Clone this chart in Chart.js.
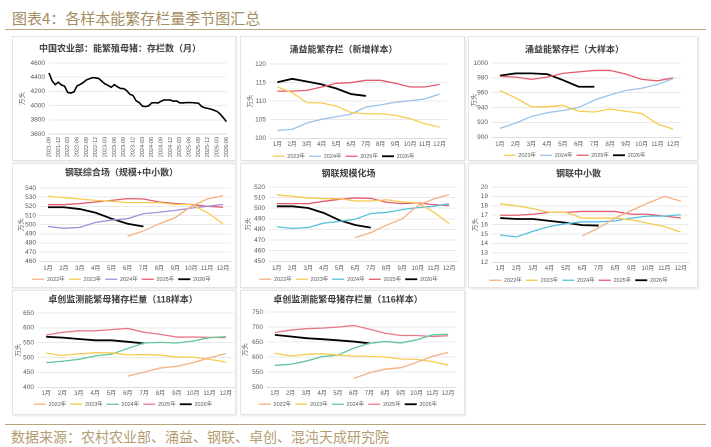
<!DOCTYPE html>
<html><head><meta charset="utf-8">
<script src="https://cdn.jsdelivr.net/npm/chart.js@4.4.1/dist/chart.umd.min.js"></script>
<style>
html,body{margin:0;padding:0;background:#fff;}
body{width:711px;height:447px;position:relative;overflow:hidden;font-family:"Noto Sans CJK SC",sans-serif;}
.hdr{position:absolute;left:12px;top:7px;font-size:15px;color:#a58d62;line-height:22px;white-space:nowrap;}
.rule{position:absolute;left:5px;width:701px;height:0;border-top:1.5px solid #b8a47c;}
.box{position:absolute;border:1px solid #e4e4e4;box-shadow:1px 1px 2px rgba(0,0,0,0.10);background:#fff;box-sizing:border-box;}
canvas.c{position:absolute;}
.ftr{position:absolute;left:11px;top:427px;font-size:14px;color:#b39d72;line-height:18px;white-space:nowrap;}
</style></head><body>
<div class="hdr">图表4：各样本能繁存栏量季节图汇总</div>
<div class="rule" style="top:29px"></div>
<div class="rule" style="top:424px"></div>
<div class="ftr">数据来源：农村农业部、涌益、钢联、卓创、混沌天成研究院</div>
<script>
// ---------- DATA ----------
const months = ['1月','2月','3月','4月','5月','6月','7月','8月','9月','10月','11月','12月'];
const yearNames = ['2022年','2023年','2024年','2025年','2026年'];

const moaLabels = ['2021-09','2021-10','2021-11','2021-12',
 '2022-01','2022-02','2022-03','2022-04','2022-05','2022-06','2022-07','2022-08','2022-09','2022-10','2022-11','2022-12',
 '2023-01','2023-02','2023-03','2023-04','2023-05','2023-06','2023-07','2023-08','2023-09','2023-10','2023-11','2023-12',
 '2024-01','2024-02','2024-03','2024-04','2024-05','2024-06','2024-07','2024-08','2024-09','2024-10','2024-11','2024-12',
 '2025-01','2025-02','2025-03','2025-04','2025-05','2025-06','2025-07','2025-08','2025-09','2025-10','2025-11','2025-12',
 '2026-01','2026-02','2026-03','2026-04','2026-05','2026-06'];
const moaSows = [4459,4348,4296,4329,
 4290,4274,4185,4177,4192,4277,4298,4324,4362,4379,4394,4390,
 4381,4343,4305,4284,4258,4296,4265,4241,4240,4210,4158,4142,
 4067,4042,3992,3986,3996,4038,4042,4036,4062,4080,4079,4078,
 4062,4066,4039,4038,4042,4043,4042,4038,4035,3990,3970,3961,
 3950,3935,3918,3880,3830,3775];

const yyNew2023 = [113.8,112.3,109.6,109.5,108.7,106.9,106.6,106.6,106.2,105.3,103.9,103.0];
const yyNew2024 = [102.1,102.4,104.1,105.1,105.8,106.5,108.4,109.0,109.7,110.1,110.6,111.9];
const yyNew2025 = [112.7,112.7,112.9,113.8,114.8,115.0,115.6,115.6,114.8,113.8,113.8,114.5];
const yyNew2026 = [115.1,116.0,115.3,114.5,113.4,111.9,111.4];

const yyBig2023 = [963,953,941,941,943,935,934,938,935,932,918,911];
const yyBig2024 = [912,919,928,933,936,940,950,957,963,966,971,979];
const yyBig2025 = [982,981,978,981,986,988,990,990,985,978,976,980];
const yyBig2026 = [983,986,986,985,977,968,968];

const glAll2022 = [null,null,null,null,null,487.3,493.1,501,507.6,520,528,531.6];
const glAll2023 = [531,529.5,528,526.5,525.5,524,524,524,522,522,513.5,501];
const glAll2024 = [498,496,497,502.5,505,506.5,512,513.5,515.6,518,520,522];
const glAll2025 = [521.8,521.8,523,524.7,526.5,528.4,528,524.7,523,522,520,519];
const glAll2026 = [519,519,517,513,506.5,501,498];

const glScale2022 = [null,null,null,null,null,472.4,477,484,490,502.5,508.7,512.8];
const glScale2023 = [512.5,511.2,509.7,509,509,506.8,506.8,508,506,505,496.5,485.5];
const glScale2024 = [482.4,481,481.8,486,487.6,489.6,495,496,498.7,500.6,501.8,504.3];
const glScale2025 = [504.3,504.3,504.3,506.5,508.4,509.7,509.3,505.6,504.3,505,503.4,502.5];
const glScale2026 = [501.8,501.8,500.2,495.5,488.6,484.2,481.7];

const glSmall2022 = [null,null,null,null,null,14.8,15.66,16.7,17.5,18.3,19.0,18.5];
const glSmall2023 = [18.2,18.0,17.7,17.3,17.3,16.7,16.7,16.7,16.5,16.15,15.8,15.2];
const glSmall2024 = [14.9,14.7,15.3,15.8,16.1,16.3,16.3,16.4,16.7,16.9,16.9,17.05];
const glSmall2025 = [17.0,17.0,17.1,17.3,17.3,17.4,17.4,17.4,17.1,17.1,16.9,16.7];
const glSmall2026 = [16.7,16.6,16.6,16.4,16.2,15.95,15.9];

const zc118_2022 = [null,null,null,null,null,437.5,451,465,470.5,483,499,513.6];
const zc118_2023 = [514.8,507,512.5,516,516,509,510,508,502,501,494,485];
const zc118_2024 = [483,487.5,494,505.7,511,530.7,549,551,549,555.7,567,570.5];
const zc118_2025 = [576,585,590,590,594,598,585,578,569,569,568,567];
const zc118_2026 = [570,567,562.5,558,558,553,547.7];

const zc116_2022 = [null,null,null,null,null,529,548,560,565,582.6,602.6,616];
const zc116_2023 = [612.7,603.8,609,611.6,607,603.8,602.7,600.4,593.8,592.6,585,573.7];
const zc116_2024 = [572.5,576,587,601.6,607,629.5,646,651.8,647.3,657.4,674,676];
const zc116_2025 = [682,690,694.6,696.4,700,705,693,679.5,672,672,668.5,671];
const zc116_2026 = [674,668.5,663,659.6,656,651.8,646];

// ---------- STYLE ----------
Chart.defaults.font.family = '"Liberation Sans","Noto Sans CJK SC",sans-serif';
Chart.defaults.color = '#595959';
const C22 = '#f4b183', C23 = '#f6cb52', C25 = '#e45b6d', C25b = '#e8788a', C26 = '#000000';

function ds(label, data, color, w) {
  return {label, data, borderColor: color, backgroundColor: color, borderWidth: w || 1.3,
          pointRadius: 0, tension: 0, fill: false};
}

function makeChart(p) {
  const box = p.box, a = p.area;
  const bd = document.createElement('div'); bd.className = 'box';
  Object.assign(bd.style, {left: box.x+'px', top: box.y+'px', width: box.w+'px', height: box.h+'px'});
  document.body.appendChild(bd);
  const hasLegend = p.legY != null;
  const LFS = 5.5, LP = 4;
  const cH = hasLegend ? Math.round(p.legY + LFS / 2 + 10 - box.y) : box.h;
  const cv = document.createElement('canvas'); cv.className = 'c';
  cv.width = box.w; cv.height = cH;
  Object.assign(cv.style, {left: box.x+'px', top: box.y+'px', width: box.w+'px', height: cH+'px'});
  document.body.appendChild(cv);
  const legTop = hasLegend ? (p.legY - box.y) - LP - LFS / 2 : cH;
  const xH = legTop - (a.bottom - box.y);
  const yW = a.left - box.x;
  const tickFont = {size: 6.5, lineHeight: 1.2};
  const xFont = {size: 6, lineHeight: 1.2};
  const xPad = p.rot ? (p.xLabTop - a.bottom) : (p.xLabY - a.bottom - 3.6);
  new Chart(cv, {
    type: 'line',
    data: {labels: p.labels, datasets: p.datasets},
    options: {
      responsive: false, animation: false, devicePixelRatio: 2,
      layout: {padding: {left: 0, right: box.x + box.w - a.right, top: 0, bottom: 0}},
      plugins: {
        title: {display: true, text: p.title, color: '#404040',
                font: {size: 9, weight: 'bold', lineHeight: 1},
                padding: {top: p.titleY - box.y - 4.5, bottom: a.top - p.titleY - 4.5}},
        legend: {display: hasLegend, position: 'bottom',
                 labels: {usePointStyle: true, pointStyle: 'line', pointStyleWidth: 12,
                          font: {size: LFS}, padding: LP, color: '#595959'}},
        tooltip: {enabled: false}
      },
      scales: {
        x: {offset: !p.rot, grid: {display: false, drawTicks: false}, border: {color: '#d9d9d9', width: 0.8},
            ticks: {font: p.rot ? {size: 5.5} : xFont, padding: xPad, autoSkip: false,
                    maxRotation: p.rot ? 90 : 0, minRotation: p.rot ? 90 : 0,
                    callback: function(v, i) { return (!p.every || i % p.every === 0) ? this.getLabelForValue(v) : ''; }},
            afterFit: s => { s.height = xH; }},
        y: {min: p.yMin, max: p.yMax,
            ticks: {stepSize: p.yStep, font: tickFont, padding: 4, autoSkip: false,
                    callback: v => String(v)},
            grid: {color: '#e3e3e3', lineWidth: 0.7, drawTicks: false},
            border: {display: false},
            title: {display: true, text: '万头', font: {size: 6.5, lineHeight: 1.2}, color: '#595959',
                    padding: {top: p.yTitleOff - 3.9, bottom: 0}},
            afterFit: s => { s.width = yW; }}
      }
    }
  });
}

// Panel 1
makeChart({box: {x:12, y:36, w:224, h:125}, area: {left:49, right:228, top:63, bottom:134},
  titleY: 49, rot: true, xLabTop: 137, every: 3, yTitleOff: 10,
  title: '中国农业部：能繁殖母猪：存栏数（月）', labels: moaLabels,
  yMin: 3600, yMax: 4600, yStep: 200,
  datasets: [ds('能繁母猪存栏', moaSows, '#000000', 1.6)]});

// Panel 2
makeChart({box: {x:240, y:36, w:225, h:125}, area: {left:270, right:447, top:64, bottom:138},
  titleY: 50, xLabY: 144, legY: 156, yTitleOff: 10,
  title: '涌益能繁存栏（新增样本）', labels: months, yMin: 100, yMax: 120, yStep: 5,
  datasets: [ds(yearNames[1], yyNew2023, C23), ds(yearNames[2], yyNew2024, '#9dc3e6'),
             ds(yearNames[3], yyNew2025, C25), ds(yearNames[4], yyNew2026, C26, 1.8)]});

// Panel 3
makeChart({box: {x:468, y:36, w:230, h:125}, area: {left:492, right:681, top:63, bottom:137},
  titleY: 50, xLabY: 144, legY: 155, yTitleOff: 6,
  title: '涌益能繁存栏（大样本）', labels: months, yMin: 900, yMax: 1000, yStep: 20,
  datasets: [ds(yearNames[1], yyBig2023, C23), ds(yearNames[2], yyBig2024, '#9dc3e6'),
             ds(yearNames[3], yyBig2025, C25), ds(yearNames[4], yyBig2026, C26, 1.8)]});

// Panel 4
makeChart({box: {x:12, y:163, w:224, h:125}, area: {left:40, right:231, top:188, bottom:261},
  titleY: 173, xLabY: 268, legY: 279, yTitleOff: 9,
  title: '钢联综合场（规模+中小散）', labels: months, yMin: 460, yMax: 540, yStep: 10,
  datasets: [ds(yearNames[0], glAll2022, C22), ds(yearNames[1], glAll2023, C23),
             ds(yearNames[2], glAll2024, '#a58fd8'), ds(yearNames[3], glAll2025, C25),
             ds(yearNames[4], glAll2026, C26, 1.8)]});

// Panel 5
makeChart({box: {x:240, y:163, w:225, h:125}, area: {left:269, right:457, top:187, bottom:261},
  titleY: 174, xLabY: 268, legY: 279, yTitleOff: 8,
  title: '钢联规模化场', labels: months, yMin: 450, yMax: 520, yStep: 10,
  datasets: [ds(yearNames[0], glScale2022, C22), ds(yearNames[1], glScale2023, C23),
             ds(yearNames[2], glScale2024, '#56c2dc'), ds(yearNames[3], glScale2025, C25),
             ds(yearNames[4], glScale2026, C26, 1.8)]});

// Panel 6
makeChart({box: {x:468, y:163, w:230, h:125}, area: {left:492, right:689, top:187, bottom:262},
  titleY: 174, xLabY: 268, legY: 280, yTitleOff: 7,
  title: '钢联中小散', labels: months, yMin: 12, yMax: 20, yStep: 1,
  datasets: [ds(yearNames[0], glSmall2022, C22), ds(yearNames[1], glSmall2023, C23),
             ds(yearNames[2], glSmall2024, '#56c2dc'), ds(yearNames[3], glSmall2025, C25),
             ds(yearNames[4], glSmall2026, C26, 1.8)]});

// Panel 7
makeChart({box: {x:12, y:290, w:224, h:125}, area: {left:38, right:234, top:313, bottom:387},
  titleY: 300, xLabY: 393, legY: 404, yTitleOff: 6,
  title: '卓创监测能繁母猪存栏量（118样本）', labels: months, yMin: 400, yMax: 650, yStep: 50,
  datasets: [ds(yearNames[0], zc118_2022, C22), ds(yearNames[1], zc118_2023, C23),
             ds(yearNames[2], zc118_2024, '#62c69a'), ds(yearNames[3], zc118_2025, C25b),
             ds(yearNames[4], zc118_2026, C26, 1.8)]});

// Panel 8
makeChart({box: {x:240, y:290, w:225, h:125}, area: {left:267, right:456, top:312, bottom:387},
  titleY: 300, xLabY: 393, legY: 404, yTitleOff: 5,
  title: '卓创监测能繁母猪存栏量（116样本）', labels: months, yMin: 500, yMax: 750, yStep: 50,
  datasets: [ds(yearNames[0], zc116_2022, C22), ds(yearNames[1], zc116_2023, C23),
             ds(yearNames[2], zc116_2024, '#62c69a'), ds(yearNames[3], zc116_2025, C25b),
             ds(yearNames[4], zc116_2026, C26, 1.8)]});
</script>
</body></html>
